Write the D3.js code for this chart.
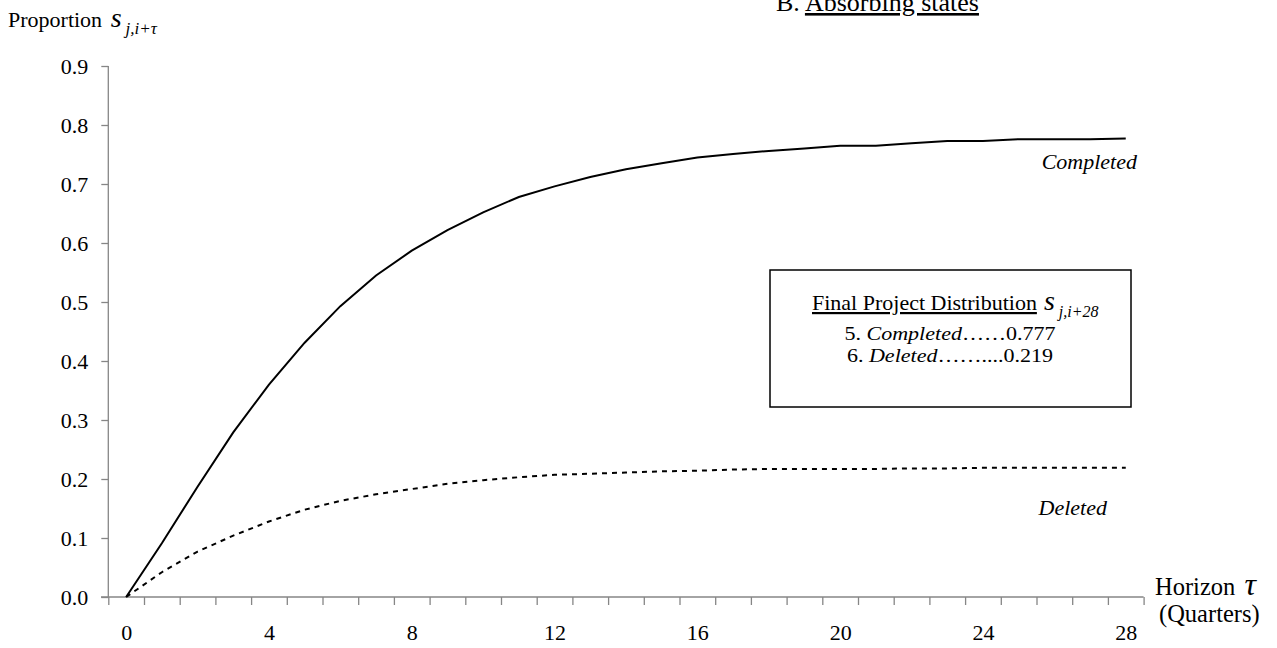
<!DOCTYPE html>
<html>
<head>
<meta charset="utf-8">
<script src="https://cdn.jsdelivr.net/npm/d3@7"></script>
<style>
  html, body { margin: 0; padding: 0; background: #fff; }
  svg { display: block; font-family: "Liberation Serif", "Times New Roman", serif; }
</style>
</head>
<body>
<svg id="chart" width="1277" height="648"></svg>
<script>
// Horizon in quarters
const horizon = d3.range(0, 29);
// Share of projects absorbed into each terminal state
const completed = [0, 0.091, 0.187, 0.279, 0.360, 0.431, 0.493, 0.545, 0.587, 0.622,
  0.652, 0.678, 0.696, 0.712, 0.725, 0.735, 0.745, 0.751, 0.756, 0.760,
  0.765, 0.765, 0.769, 0.773, 0.773, 0.776, 0.776, 0.776, 0.777];
const deleted = [0, 0.042, 0.077, 0.104, 0.128, 0.148, 0.163, 0.174, 0.183, 0.192,
  0.198, 0.203, 0.207, 0.209, 0.211, 0.213, 0.214, 0.216, 0.217, 0.217,
  0.217, 0.217, 0.218, 0.218, 0.219, 0.219, 0.219, 0.219, 0.219];
const xTickLabels = [0, 4, 8, 12, 16, 20, 24, 28];
const yTickLabels = [0, 0.1, 0.2, 0.3, 0.4, 0.5, 0.6, 0.7, 0.8, 0.9];
const finalDist = [
  { num: "5. ", name: "Completed", dots: "……", value: "0.777" },
  { num: "6. ", name: "Deleted", dots: "……....", value: "0.219" }
];

const svg = d3.select("#chart");
const axisColor = "#868686";
const fs = 22;

// Category-style x axis: each quarter occupies one slot, marks sit at slot centres
const x = d3.scaleLinear().domain([-0.5, 28.5]).range([108.3, 1143.6]);
const y = d3.scaleLinear().domain([0, 0.9]).range([597, 66]);

// x axis line and slot-boundary ticks
const xMarks = svg.append("g").attr("transform", `translate(0,${y(0)})`)
  .call(d3.axisBottom(x).tickValues(d3.range(-0.5, 29, 1)).tickSize(8).tickFormat(""));
xMarks.select(".domain").remove();
xMarks.selectAll(".tick line").attr("stroke", axisColor).attr("stroke-width", 1.3);
svg.append("line").attr("x1", 101).attr("x2", x(28.5)).attr("y1", y(0)).attr("y2", y(0))
  .attr("stroke", axisColor).attr("stroke-width", 1.3);

// x tick labels
const xLab = svg.append("g").attr("transform", `translate(0,${y(0)})`)
  .call(d3.axisBottom(x).tickValues(xTickLabels).tickSize(0).tickPadding(27).tickFormat(d3.format("d")));
xLab.select(".domain").remove();
xLab.selectAll("text").attr("font-size", fs).attr("font-family", "Liberation Serif").attr("fill", "#000");

// y axis
const yAx = svg.append("g").attr("transform", `translate(${x(-0.5)},0)`)
  .call(d3.axisLeft(y).tickValues(yTickLabels).tickSize(7).tickPadding(13).tickFormat(d3.format(".1f")));
yAx.select(".domain").attr("stroke", axisColor).attr("stroke-width", 1.3)
  .attr("d", `M0,${y(0.9)}V${y(0)}`);
yAx.selectAll(".tick line").attr("stroke", axisColor).attr("stroke-width", 1.3);
yAx.selectAll("text").attr("font-size", fs).attr("font-family", "Liberation Serif").attr("fill", "#000");

// series lines
const line = d3.line().x((d, i) => x(horizon[i])).y(d => y(d));
svg.append("path").datum(completed).attr("d", line)
  .attr("fill", "none").attr("stroke", "#000").attr("stroke-width", 2);
svg.append("path").datum(deleted).attr("d", line)
  .attr("fill", "none").attr("stroke", "#000").attr("stroke-width", 2)
  .attr("stroke-dasharray", "5,5");

// series labels
svg.append("text").attr("x", 1137).attr("y", 169).attr("text-anchor", "end")
  .attr("font-size", fs).attr("font-style", "italic").text("Completed");
svg.append("text").attr("x", 1107).attr("y", 515).attr("text-anchor", "end")
  .attr("font-size", fs).attr("font-style", "italic").text("Deleted");

// title (runs off the top edge of the page)
const title = svg.append("text").attr("x", 776).attr("y", 11).attr("font-size", 26);
title.append("tspan").text("B. ");
title.append("tspan").attr("text-decoration", "underline").text("Absorbing states");

// y axis caption
const yCap = svg.append("text").attr("x", 8).attr("y", 27).attr("font-size", fs);
yCap.append("tspan").text("Proportion ");
yCap.append("tspan").attr("font-style", "italic").attr("font-size", 28).attr("dx", 3).text("s");
yCap.append("tspan").attr("font-style", "italic").attr("font-size", 17).attr("dx", 4).attr("dy", 7).text("j,i+τ");

// x axis caption
const xCap = svg.append("text").attr("x", 1155).attr("y", 595).attr("font-size", 24.5);
xCap.append("tspan").text("Horizon ");
xCap.append("tspan").attr("font-style", "italic").attr("font-size", 32).attr("dx", 3).text("τ");
svg.append("text").attr("x", 1159).attr("y", 622).attr("font-size", 24.5).text("(Quarters)");

// final distribution box
svg.append("rect").attr("x", 770).attr("y", 270).attr("width", 361).attr("height", 137)
  .attr("fill", "#fff").attr("stroke", "#000").attr("stroke-width", 1.5);
const head = svg.append("text").attr("x", 812).attr("y", 310).attr("font-size", fs);
head.append("tspan").attr("text-decoration", "underline").text("Final Project Distribution");
head.append("tspan").attr("font-style", "italic").attr("font-size", 28).attr("dx", 7).text("s");
head.append("tspan").attr("font-style", "italic").attr("font-size", 16).attr("dx", 4).attr("dy", 7).text("j,i+28");

// the two absorbing-state shares, set slightly wide
svg.selectAll("text.dist").data(finalDist).join("text").attr("class", "dist")
  .attr("transform", (d, i) => `translate(950,${340 + i * 22}) scale(1.16,1)`)
  .attr("text-anchor", "middle").attr("font-size", 19)
  .each(function (d) {
    const t = d3.select(this);
    t.append("tspan").text(d.num);
    t.append("tspan").attr("font-style", "italic").text(d.name);
    t.append("tspan").text(d.dots + d.value);
  });
</script>
</body>
</html>
